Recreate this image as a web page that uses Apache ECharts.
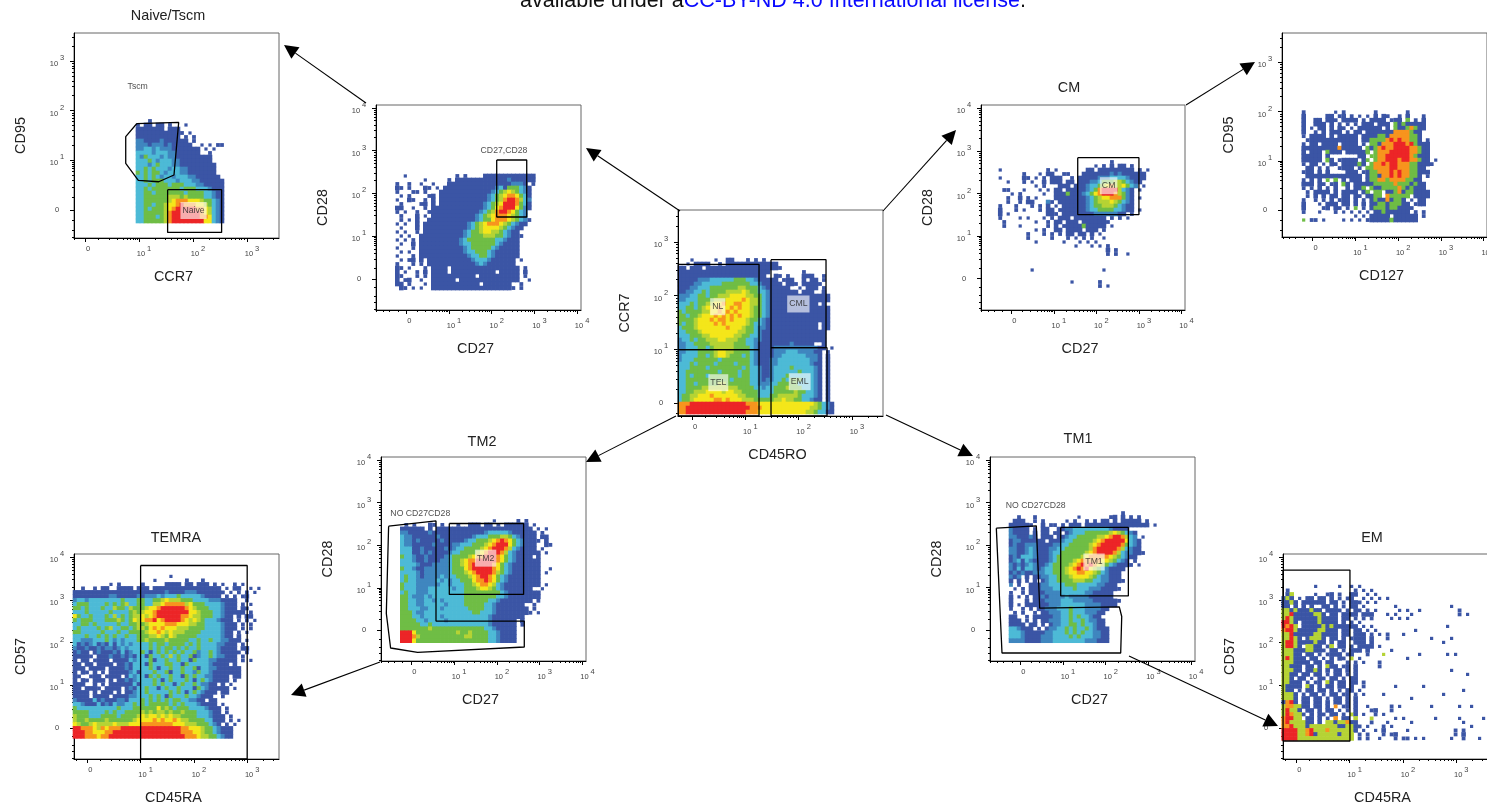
<!DOCTYPE html>
<html><head><meta charset="utf-8">
<style>html,body{margin:0;padding:0;background:#fff;overflow:hidden}#c{width:1487px;height:810px}</style>
<script src="https://cdn.jsdelivr.net/npm/echarts@6/dist/echarts.min.js"></script>
</head><body><div id="c"></div>
<script>
// Density levels per binned cell: '.' none, 1..8 = blue to red
const levelColors = ['#ffffff','#3b55a5','#3f86bf','#4dbad6','#6fbd45','#b5d334','#f4e61a','#f7941e','#ec2527'];
const rowsCenter = [
'...1.....1..11...1.1.1',
'..1.1111..1.1111111111111',
'11.111.1111111111111111111',
'11111111111111111111111........1',
'1111111111111111111111..11.1...111..1',
'1111122233333344433211111.111..1.11.1',
'11112233333444444433211111.111.11111',
'1112233344444445544432111111..1.111.1',
'112233434444555565443321111111.111..1',
'22233443445556666554432111111111111111',
'22333444455566667655432111111111111111',
'33343445566766776655432111111111111.1',
'33443456667667676654432111111111111111',
'43444455667676766654432111111111111111',
'44344566676767676654432111111111111111',
'44445666767767666544321111111111111111',
'43445666676766666543321111111111111.11',
'34445666666676665443221111111111111.11',
'3344456666666665544321111111111111111',
'3334445566666655443321111111111111111',
'2334344555665554433221111111111111111',
'2233444455555544433211111111211111..1',
'2233344345555544443211112222222222211.1',
'223334444566554444321111222333222211.1',
'233334434566544434321111223333332221.1',
'233344444434444444321112233333333221.1',
'333434444344443444321112233333333211.1',
'333444434444444434332112333343333321.1',
'334444444434444344332112333333433321.1',
'334344434444444344332112333433333321.1',
'334444444444434444332122334344433321.1',
'334434444455444444332223344444333321.1',
'334444555555555444433233444544433321.1',
'334455566665665544443333444445443321.1',
'344556667666666554443334455555433321.1',
'344566666776766655544444556554433211.1',
'777888888888888887776666666666666654321',
'778888888888888888777666666666666554321',
'778888888888888887776666666666665543311'
];
const rowsNaive = [
'...1',
'1.11.11.1...1',
'1111111.111',
'111111111111.1',
'11111111111.1.1',
'2211112111111.1',
'22212221211111..1.1.11',
'2233232221111111.1.1',
'3333233322111111..1',
'3243332322111111111',
'3334323332211111111',
'33323433322111111111',
'33434333233221111111',
'43434432333221111111',
'334343233233322111111',
'3343444333233322111111',
'3334344434443332211111',
'3343444444434443332111',
'3344344444443444433211',
'3344444455545444433211',
'3344444456777666544321',
'3344344566787776654321',
'3343444567888887765321',
'3344444578888888765321',
'3344434578888888776321',
'3344444578888888866321'
];
const rowsCD28 = [
'..1............1.1....1111111111111',
'.......1.....1.11111111111112111111',
'1..1..1..1...11111111111111112221.1',
'11.1...11.1.1111111111111231444321',
'1...11.1...11111111111112345654321',
'.1.1....11.11111111111123456776431',
'1..11..1.1.11111111111123457887532',
'.1....11.1.11111111111234568887431',
'11..1..1.1111111111111234678886421',
'1.1..1..1111111111111234578876432',
'.1...1.1.111111111112345677765432',
'.1.1.1..11111111111123446777654321',
'1.1..1.11111111111234567776543211',
'.1...1.1111111111123456666543211',
'1.1..1.111111111123445665543211',
'.1.1..11111111111234445554432111',
'1.1.1.1111111111234444444332111',
'.1..1.1111111111233444444321111',
'1...1.1111111111123444443211111',
'.1.1..1111111111123344432111111',
'1...1.1111111111112334432111111',
'.1.11.1.1111111111123332111111.1',
'1...1.1.1111111111112321111111',
'11.1...1.1111.11111111111111111.1',
'1.1..1.1.1111.11111111111.11111.1',
'11...1.1.11111111111.1111111111.1',
'1.11..1..111111.111111111111111..1',
'11.1...1.111111111111.1111111..1',
'.11.1.1..111111111111111111111.1'
];
const rowsCM = [
'............................1',
'........................1.1.1.11.1',
'1...........1.1.......11.111111111.1.1',
'......1...1.11..11...1111111212111111',
'1.....11.1.1.111..1.11111222333321111',
'..1...1.1..1.111.11.1112234445543211',
'.........1.1...111.1112334567556432.1',
'.11...1...1.1.11.11111234788885321.1',
'...1.1.....1..11141112346788875421',
'..1..1.1.1....11111111234566777421.1',
'..1..1.11...21.1111111234555654321',
'1...1...1.1.1.1.111111234455543211',
'1...1.1...1.11.1111111233444433211.1',
'1.1.........111.1111111122222211.1',
'1....1.1...1.1.111.11111111.1.1.1',
'.1.......1..1.11.111.1111111',
'.1...1......1.1.11111411111.1',
'.........1.1..11.1111.111.1',
'.......1...1.1.1.11.11.1.1',
'.......1.....1...1.1.1.1..1',
'.........1......1...1.1.1',
'...................1...1.1.1',
'...........................1.1',
'...........................1.1..1',
'','','',
'........1.................1',
'','',
'..................1......1',
'.........................1.1'
];
const rowsCD95 = [
'1.......1.1.......1.......1',
'1.....11.11.1.1.1.1.11..1.1...1',
'1..11.111.1111.1.1111.111.4.1.1',
'1..111.1.1.1.1.111.111.41411111',
'1.1.11.1.11.1.111111.1.41147411',
'1..1.1.111.1.11.11111117777411',
'1.1111.1.11111.111144177777441',
'.1111111111111.114444787877441.1',
'1.11.1111.1111.1.441777888784111',
'111111111711111.4147877888877411',
'1.111.4111.111114.47778888877411',
'11111.1.......11.447788888874111',
'11111.41.11111.14.47788878877411.1',
'1.11.1.11.111141.4778788777441111',
'.11.1.1..1111.1.447777887774411',
'111.1.1....111.11447778787744111',
'.11111111111111.14417787877441.1',
'1.1.1.4.4.1.111.14477477774411',
'111.11.11.41.111114444474441411',
'1.1.1.1.1..1.114.41144447414111',
'.1.1111.1.1111.14.44.11471441111',
'.1.1.1.11.11.11.1144.744444.1111',
'1..1.1.1.111.1.1.141171441.1.11',
'1...1.111.11.1.1.1144144411.111',
'1....11.11.1.4.1.14441441111',
'1...1...1.1.1.1.1.114111111.1.1',
'.............1.1.11111.111111.1',
'4.11.1....1.1.1.1111114111111'
];
const rowsTM2 = [
'.......................1.....1.1',
'.1.1...11.1...1..111.11.1.111111.1',
'111111.1.111111111111111111111111.1.1',
'2211111211111111111112333332111111.1',
'3221111112111111112333444554321111.11',
'32212111112111112334445678764321111.1',
'3221111121111223334445678886432111..11',
'3331121111121233444456788875321111.1',
'33311212111123344445678887532111111.1',
'433211211112344445677888764321111.1',
'33321121112234456778888876432111111',
'33332111222234456788888764321111111',
'43321122222234446788888764321111111..1',
'33332122222234445678888754321111111.1',
'34332122223233444567887643211111111',
'34332222232323344467787643211111111',
'43332222223323334456776532111111111.1',
'43332223333332334445665432111111 1..1'.split(' ').join(''),
'34332223333333334444444443211111111',
'44322232333333334444444433211111111',
'443322332323333344444433211111111.1',
'4433223333323333444443321111111..1',
'44333223332333333444433211111111.1',
'444322333333333333443332111111111.1',
'4443323333233333333333211111111',
'44443323333233333333332111111.1',
'44444334333333333333332111111.1',
'44444445444444444444433211111',
'88864444444444544544443321111',
'88875444444444445544443321111',
'88864444444444444444443321111'
];
const rowsTM1 = [
'............................1',
'..1...1..........1.......11.1.1.1',
'.111..1.1.....1.1..1.1.11.1.11111.1',
'111111..1.11.1.111.1111111111111111.1',
'21111.1.11..112233333333321111',
'21111.1.11.11.123334444445654321',
'2211121.111.11233444445567887532.1',
'122111111.11123344444567888886321',
'121122211112233444445678888874321',
'221123211122334444445788888753211',
'2211232111233444444567888875322111',
'12133321112344444456777776543211',
'123132111123444456777776654321.1',
'2121232112344445678787654321111.1',
'21313321233444567878654321111',
'1212112223344456677665432111',
'212.1.1122334445666654322111',
'1.1.1.1.123344445554433221111',
'2.1..1112233334443333322111',
'.1.1.11122233333433322211111',
'1..1.111122223333332211111',
'1.1.1.11212222322222111111',
'1...1.1112222333222221111111',
'1.1.11111122233333322221111',
'1..1.1.112223334333222211',
'.1.1..1.1122233433322211',
'11..1.11111223343433211',
'111.1.1.1122233433432211',
'1111.11.1.12233443433211',
'332111.1.1223343433432111',
'3332111112233343434332211',
'3332111122233334343332211',
'2222111122233333333222111'
];
const rowsTEMRA = [
'........................1',
'....................1.......1...1',
'.........1.1.....1.....1111.11.111.1.1..1.1',
'..1..1.11..1111.111.11111111111111111.1.11..1.1',
'11111111111111111111111211112221111111.1.1.1.1',
'1111111112211111212223233343333321111.1.1.11',
'23323333333343334433445655544433332221111..1',
'34443333434345334433556777775644433332111.1.1',
'44343334335443544456678888887654443332111.11',
'3334333334333345456678888888866544433211111.1',
'6433433343534345565678888887765544433211.1.11',
'4344433344454346567786788887656543332111.1.1.1',
'33443433333433445456666777666554433332111.1.1',
'34333343453344345546767666555444433332111.1.1',
'4433333433343344445667656555444433333211.1.1',
'3334334343433433444556546544444333333211.1',
'332223334323233344544445444443343343322111.1',
'31212312131323233334344344443434333322111.1',
'21121121221232333334343443434334333321111.11',
'1211.1211121312334313434343433423343211111.1',
'11111.11121121213314334353433412334322111.1',
'1.11.1111.1111323334133433433143332211111.1.1',
'11.11.1111.1121333143334433143333321111.1',
'111.1111.111121333343133433433413322111111',
'1.11.1.1.111112313334334133433243321111111',
'11..111.1111.13233143433433143433221111.11',
'1.11.111.1.1121233334313433343134321111.1',
'111..1.1.111111313334343313433432211.1.1',
'11.1111.1111.12133433134334333143211111.1',
'1111.1.111.1.11233433333434313432111.11',
'1111.1111.1111223334343143334332111..1',
'211113121112213334343434344332211.11',
'332111312132233434344444343433321111.1',
'4333333333343334444446454344433332111.1',
'4444333343433444454545545445444333211.1',
'54443334444344445656656565544443332111.1',
'54454444544444456666767667655444433111.1.1',
'6544565555655566677777777666555444321.1.1',
'8877765767778888888888888887766654432111',
'8887766677888888888888888887776654432111',
'8887776778888888888888888888777655443211'
];
const rowsEM = [
'........1.....1..1.1',
'.1................1.1.1',
'.15.....1..11.1..11..1.1',
'151.1.11.11.1.1.11..1.1.1.1',
'1151.111111.11.1.111.1.1',
'11.1.1.1..11.1.1.11.1.......1.............1',
'5515111511.1111.1.11.1.1.....1.1..1.........1',
'55811111551.11.1111.111...1.1...1...........1.1',
'58511111151111.11.1.1.1....1.1.1',
'8851.111151111.1.1.1',
'8785.11111515111111.1.1..................1',
'78851111155111.11.11.1.1.........1',
'55811111551111.11.111.1.1.1...1',
'55851.15551.11.1.1111.1...1..........1....1',
'58851111511.1.11..111.1.................1',
'58851.5511.15.11.1.1111.1',
'55511155111.11.1.111.1.....1',
'55511.11.1.1111.11...1...5........1......1.1',
'585111.11.1.1.11.5.1...........1',
'5551111.11.11...1.1.1...1',
'55111.11.1.511.11.1.....1',
'55511.1151.1.11.1.1.......................1',
'5511.11.11.1.11.1.1...........................1',
'551.11.1.11.11.1.11',
'55111.1.11.51.11.11.1',
'51111.51.1.11.11.1..1.......1......1',
'511.1.11.11.1.1.11.1.........................1',
'5551.1.11.1.11.11.1.1....1..............1',
'5551.11.11.1.11.1.1.............1',
'1781.11.11.1.11.1.1',
'5775511.11.1.7.11.1..1.....1.1.......1......1..1',
'58551.11.1.11.1.1.1...11...1',
'587551.1.11.11.1.51.1..1.1',
'78855.11.1.1.7.11.5...5.....1.1.......1.....1.....1',
'78555511.1.55155711...1...1.....1............1',
'77855515555555115511.1...1.1...................1',
'8888557855575555551.1..1.1.....1...........1.1',
'888855781555551555.1.1...1.11..............1.1',
'888855555555555555.1.1..1...1.11.1.1......1..1...1'
];
// Tick values in axis decades (0 is the biexponential zero, n is 10^n)
const ticks3 = [0,1,2,3];
const ticks4 = [0,1,2,3,4];
const minorTicks = [-0.85,-0.7,-0.55,-0.4,-0.2,0.25,0.45,0.6,0.7,0.78,0.84,0.89,0.93,0.97,
 1.3,1.48,1.6,1.7,1.78,1.85,1.9,1.95,2.3,2.48,2.6,2.7,2.78,2.85,2.9,2.95,3.3,3.48,3.6,3.7,3.78,3.85,3.9,3.95];
// Gates
const rect = (a,b,c,d)=>[[a,c],[b,c],[b,d],[a,d],[a,c]];
const gatesCenter = [rect(-0.257,1.257,2.583,0.993),rect(-0.257,1.257,0.993,-0.242),rect(1.482,2.514,2.669,1.03),rect(1.482,2.533,1.03,-0.242)];
const gatesNaive = [rect(1.53,2.53,0.41,-0.45),[[0.957,1.736],[1.735,1.764],[1.648,0.704],[1.365,0.569],[0.987,0.598],[0.754,0.94],[0.754,1.475],[0.957,1.736]]];
const gatesCD28 = [rect(2.117,2.82,2.78,1.449)];
const gatesCM = [rect(1.562,3.0,2.84,1.502)];
const gatesTM2 = [rect(0.888,2.624,2.512,0.845),[[-0.53,2.448],[0.577,2.573],[0.577,0.218],[2.64,0.218],[2.64,-0.392],[0.147,-0.516],[-0.484,-0.415],[-0.584,0.399],[-0.53,2.448]]];
const gatesTM1 = [rect(0.946,2.53,2.418,0.805),[[-0.562,2.401],[0.375,2.455],[0.454,0.516],[2.318,0.547],[2.375,0.319],[2.351,-0.54],[-0.429,-0.54],[-0.562,2.401]]];
const gatesTEMRA = [rect(1,3,3.81,-0.727)];
const gatesEM = [rect(-0.25,1.005,3.704,-0.305)];
// Gate names
const labelsCenter = [['NL',0.482,1.793,1],['TEL',0.493,0.378,1],['CML',1.995,1.844,1],['EML',2.02,0.397,1]];
const labelsNaive = [['Tscm',0.976,2.48,0],['Naive',2.01,-0.01,1]];
const labelsCD28 = [['CD27,CD28',2.288,2.99,0]];
const labelsCM = [['CM',2.288,2.183,1]];
const labelsTM2 = [['NO CD27CD28',0.21,2.737,0],['TM2',1.736,1.697,1]];
const labelsTM1 = [['NO CD27CD28',0.36,2.94,0],['TM1',1.726,1.603,1]];

const panels = [
 {title:'',xName:'CD45RO',yName:'CCR7',left:678,top:210,w:205,h:206,xr:[-0.263,3.583],yr:[-0.242,3.594],xt:ticks3,yt:ticks3,rows:rowsCenter,cx:[-0.225,0.075],cy:[2.663,0.0745],gates:gatesCenter,labels:labelsCenter},
 {title:'Naive/Tscm',tx:168,ty:9.5,xName:'CCR7',yName:'CD95',left:74,top:33,w:205,h:205,xr:[-0.204,3.593],yr:[-0.563,3.561],xt:ticks3,yt:ticks3,rows:rowsNaive,cx:[0.981,0.0741],cy:[1.791,0.0805],gates:gatesNaive,labels:labelsNaive},
 {title:'',xName:'CD27',yName:'CD28',left:376,top:105,w:205,h:205,xr:[-0.71,4.091],yr:[-0.724,4.065],xt:ticks4,yt:ticks4,rows:rowsCD28,cx:[-0.211,0.0937],cy:[2.407,0.0935],gates:gatesCD28,labels:labelsCD28},
 {title:'CM',tx:1069,ty:81.5,xName:'CD27',yName:'CD28',left:981,top:105,w:204,h:205,xr:[-0.71,4.082],yr:[-0.735,4.077],xt:ticks4,yt:ticks4,rows:rowsCM,cx:[-0.258,0.0937],cy:[2.739,0.0939],gates:gatesCM,labels:labelsCM},
 {title:'',xName:'CD127',yName:'CD95',left:1282,top:33,w:205,h:204,xr:[-0.718,4.077],yr:[-0.539,3.588],xt:ticks4,yt:ticks3,rows:rowsCD95,cx:[-0.211,0.0936],cy:[1.986,0.0808],gates:[],labels:[]},
 {title:'TM2',tx:482,ty:435.5,xName:'CD27',yName:'CD28',left:381,top:457,w:205,h:204,xr:[-0.708,4.082],yr:[-0.721,4.075],xt:ticks4,yt:ticks4,rows:rowsTM2,cx:[-0.21,0.0935],cy:[2.573,0.0939],gates:gatesTM2,labels:labelsTM2},
 {title:'TM1',tx:1078,ty:432.5,xName:'CD27',yName:'CD28',left:990,top:457,w:205,h:204,xr:[-0.71,4.091],yr:[-0.728,4.075],xt:ticks4,yt:ticks4,rows:rowsTM1,cx:[-0.218,0.0937],cy:[2.754,0.0939],gates:gatesTM1,labels:labelsTM1},
 {title:'TEMRA',tx:176,ty:531.5,xName:'CD45RA',yName:'CD57',left:74,top:554,w:205,h:205,xr:[-0.25,3.597],yr:[-0.727,4.08],xt:ticks3,yt:ticks4,rows:rowsTEMRA,cx:[-0.231,0.075],cy:[3.555,0.0938],gates:gatesTEMRA,labels:[]},
 {title:'EM',tx:1372,ty:531.5,xName:'CD45RA',yName:'CD57',left:1283,top:554,w:205,h:205,xr:[-0.251,3.595],yr:[-0.727,4.08],xt:ticks3,yt:ticks4,rows:rowsEM,cx:[-0.238,0.075],cy:[3.32,0.0938],gates:gatesEM,labels:[]}
];
// Connecting arrows: tail then head, page pixels
const arrows = [[680,211,586,148],[366,103,284,45],[883,211,956,130],[1186,105,1255,62],[676,416,586,462],[886,415,973,456],[380,662,291,695],[1129,656,1278,726]];

const font = '"Liberation Sans",Helvetica,Arial,sans-serif';
const tickFmt = v => v===0 ? '{z|0}' : '{a|10}{b|'+v+'}';
const tickStyle = {fontSize:7.5,color:'#444',fontFamily:font};
const richX = {z:{...tickStyle,padding:[0,0,0,6]},a:{...tickStyle,padding:[5,0,0,10]},b:{...tickStyle,verticalAlign:'top',padding:[0,0,0,2]}};
const richY = {z:{...tickStyle},a:{...tickStyle,padding:[6,0,0,0]},b:{...tickStyle,verticalAlign:'top',padding:[0,0,0,2]}};
const grid=[],xAxis=[],yAxis=[],series=[],title=[];
title.push({left:520,top:-10,padding:0,text:'{k|available under a}{u|CC-BY-ND 4.0 International license}{k|.}',textStyle:{fontWeight:'normal',rich:{k:{fontSize:21.5,fontWeight:'normal',color:'#111',fontFamily:font},u:{fontSize:21.5,fontWeight:'normal',color:'#0a0aff',fontFamily:font}}}});
panels.forEach((p,i)=>{
 grid.push({left:p.left,top:p.top,width:p.w,height:p.h,show:true,borderColor:'#666',borderWidth:1,backgroundColor:'#fff',outerBoundsMode:'none'});
 const ax=(k)=>{
  const isX=k==='x', r=isX?p.xr:p.yr, t=isX?p.xt:p.yt;
  const base={type:'value',gridIndex:i,min:r[0],max:r[1],position:isX?'bottom':'left',splitLine:{show:false},scale:false};
  const minor=minorTicks.filter(v=>v>r[0]&&v<r[1]);
  const list=isX?xAxis:yAxis;
  list.push(Object.assign({},base,{name:isX?p.xName:p.yName,nameLocation:'middle',nameGap:isX?32:46,
    nameTextStyle:{fontSize:14.4,color:'#222',fontFamily:font,padding:isX?[0,6,0,0]:0},
    axisLine:{show:true,onZero:false,lineStyle:{color:'#000',width:1}},
    axisTick:{show:true,customValues:t,length:4,lineStyle:{color:'#000',width:1}},
    axisLabel:{show:true,customValues:t,margin:isX?7:17,hideOverlap:false,showMinLabel:true,showMaxLabel:true,align:isX?undefined:'center',formatter:tickFmt,rich:isX?richX:richY}}));
  list.push(Object.assign({},base,{axisLine:{show:false,onZero:false},axisLabel:{show:false},axisTick:{show:true,customValues:minor,length:2,lineStyle:{color:'#000',width:1}}}));
 };
 ax('x');ax('y');
 const xi=2*i, yi=2*i;
 const pts=[];
 const filled=(r,c)=>{const s=p.rows[r];return !!s&&c>=0&&c<s.length&&s[c]!=='.';};
 p.rows.forEach((row,r)=>{
  for(let c=0;c<row.length;c++){
   const ch=row[c];
   if(ch==='.')continue;
   const n=(filled(r,c-1)?1:0)+(filled(r,c+1)?1:0)+(filled(r-1,c)?1:0)+(filled(r+1,c)?1:0);
   pts.push([p.cx[0]+c*p.cx[1],p.cy[0]-r*p.cy[1],+ch,n]);
  }
 });
 series.push({type:'scatter',xAxisIndex:xi,yAxisIndex:yi,data:pts,symbol:'rect',symbolSize:v=>v[3]===0?3.2:(v[3]===1?3.8:4.6),silent:true,animation:false,z:2,
   itemStyle:{opacity:1,color:q=>levelColors[q.value[2]]}});
 p.gates.forEach(g=>series.push({type:'line',xAxisIndex:xi,yAxisIndex:yi,data:g,symbol:'none',silent:true,animation:false,clip:false,z:4,lineStyle:{color:'#000',width:1.3}}));
 if(p.labels.length)series.push({type:'scatter',xAxisIndex:xi,yAxisIndex:yi,symbol:'circle',symbolSize:1,silent:true,animation:false,z:5,itemStyle:{color:'transparent'},
   data:p.labels.map(l=>({value:[l[1],l[2]],label:{
     show:true,position:'inside',formatter:l[0],fontSize:8.7,color:'#222',fontFamily:font,
     backgroundColor:l[3]?'rgba(255,255,255,0.78)':'transparent',padding:l[3]?[4,2]:0}}))});
 if(p.title)title.push({text:p.title,left:p.tx,top:p.ty,padding:0,textAlign:'center',textStyle:{fontSize:14.4,fontWeight:'normal',color:'#222',fontFamily:font}});
});
const graphic=[];
arrows.forEach(a=>{
 const [x1,y1,x2,y2]=a,d=Math.hypot(x2-x1,y2-y1),ux=(x2-x1)/d,uy=(y2-y1)/d,L=14,W=7;
 const bx=x2-ux*L,by=y2-uy*L;
 graphic.push({type:'line',silent:true,z:20,shape:{x1,y1,x2:bx,y2:by},style:{stroke:'#000',lineWidth:1.1}});
 graphic.push({type:'polygon',silent:true,z:20,shape:{points:[[x2,y2],[bx-uy*W,by+ux*W],[bx+uy*W,by-ux*W]]},style:{fill:'#000'}});
});
const chart=echarts.init(document.getElementById('c'),null,{renderer:'canvas'});
chart.setOption({animation:false,backgroundColor:'#fff',title,grid,xAxis,yAxis,series,graphic});
</script></body></html>
